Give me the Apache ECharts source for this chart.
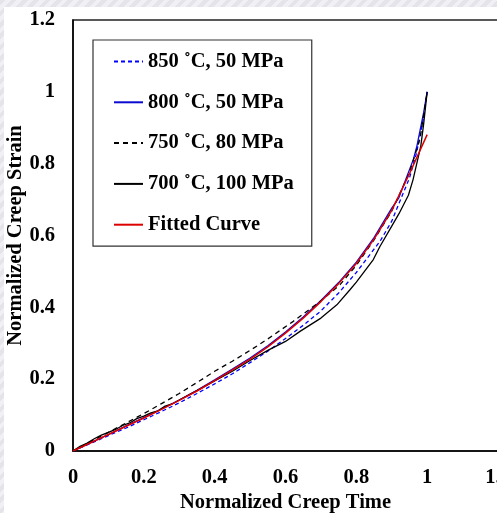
<!DOCTYPE html>
<html><head><meta charset="utf-8">
<script src="https://cdn.jsdelivr.net/npm/echarts@6/dist/echarts.min.js"></script>
<style>
html,body{margin:0;padding:0;width:497px;height:513px;overflow:hidden;
background:repeating-linear-gradient(135deg,#e4e4ea 0 4px,#f1f1f5 4px 8px);}
#c{position:absolute;left:4px;top:7px;width:493px;height:506px;background:#fff;}
</style></head>
<body><div id="c"></div>
<script>
const seriesNames = ['850 \u02DAC, 50 MPa','800 \u02DAC, 50 MPa','750 \u02DAC, 80 MPa','700 \u02DAC, 100 MPa','Fitted Curve'];
const xTickLabels = ['0','0.2','0.4','0.6','0.8','1','1.2'];
const yTickLabels = ['0','0.2','0.4','0.6','0.8','1','1.2'];

const time850 = [0,0.05,0.1,0.15,0.2,0.25,0.3,0.35,0.4,0.45,0.5,0.55,0.6,0.65,0.7,0.75,0.8,0.85,0.867,0.9,0.95,0.97,0.99,1.0];
const strain850 = [0,0.021,0.043,0.064,0.087,0.110,0.134,0.160,0.187,0.215,0.246,0.278,0.313,0.350,0.390,0.440,0.497,0.562,0.584,0.640,0.760,0.830,0.930,1.0];

const time800 = [0,0.05,0.1,0.15,0.2,0.25,0.3,0.35,0.4,0.45,0.5,0.55,0.6,0.65,0.7,0.75,0.8,0.85,0.9,0.92,0.961,0.971,0.99,1.0];
const strain800 = [0,0.023,0.046,0.070,0.093,0.117,0.142,0.169,0.198,0.228,0.259,0.293,0.331,0.373,0.419,0.469,0.526,0.594,0.676,0.705,0.812,0.849,0.942,1.0];

const time750 = [0,0.05,0.1,0.15,0.218,0.25,0.3,0.354,0.4,0.45,0.5,0.55,0.622,0.7,0.754,0.8,0.85,0.9,0.95,0.98,1.0];
const strain750 = [0,0.026,0.052,0.078,0.114,0.132,0.160,0.193,0.222,0.250,0.280,0.312,0.361,0.418,0.463,0.517,0.588,0.668,0.775,0.870,1.0];

const time700 = [0,0.02,0.04,0.06,0.08,0.10,0.12,0.14,0.16,0.18,0.20,0.22,0.24,0.26,0.28,0.30,0.35,0.40,0.45,0.50,0.55,0.60,0.641,0.70,0.745,0.782,0.80,0.848,0.867,0.90,0.92,0.947,0.96,0.982,0.99,1.0];
const strain700 = [0,0.013,0.022,0.034,0.044,0.052,0.060,0.071,0.078,0.090,0.097,0.106,0.112,0.125,0.131,0.142,0.168,0.195,0.222,0.252,0.280,0.305,0.333,0.370,0.407,0.449,0.470,0.533,0.570,0.626,0.660,0.712,0.755,0.849,0.910,1.0];

const timeFit = [0,0.05,0.1,0.15,0.2,0.25,0.3,0.35,0.4,0.45,0.5,0.55,0.6,0.65,0.7,0.75,0.8,0.85,0.9,0.95,1.0];
const strainFit = [0,0.023,0.046,0.069,0.092,0.116,0.141,0.167,0.196,0.226,0.256,0.290,0.328,0.370,0.416,0.466,0.522,0.590,0.670,0.772,0.881];

function pairs(xs, ys){ return xs.map((x,i)=>[x, ys[i]]); }

const font = '"Liberation Serif","Times New Roman",serif';
const chart = echarts.init(document.getElementById('c'), null, {renderer:'canvas'});
const mk = (name, xs, ys, color, type, width) => ({
  name, type:'line', data:pairs(xs,ys), symbol:'none', showSymbol:false, smooth:false,
  lineStyle:{color, width, type}, itemStyle:{color}, animation:false
});
chart.setOption({
  animation:false,
  grid:{left:69, top:13, width:425, height:431, containLabel:false, outerBoundsMode:'none',
    show:true, borderColor:'#222', borderWidth:1.5, backgroundColor:'transparent'},
  legend:{
    orient:'vertical', left:89, top:33, itemWidth:29, itemHeight:14, itemGap:19.8,
    padding:[11,18,11,20], borderColor:'#333', borderWidth:1.2, backgroundColor:'#fff',
    itemStyle:{opacity:0, borderWidth:0},
    textStyle:{fontFamily:font, fontWeight:'bold', fontSize:20.5, color:'#000'},
    data:seriesNames
  },
  xAxis:{type:'value', min:0, max:1.2, interval:0.2,
    name:'Normalized Creep Time', nameLocation:'middle', nameGap:41, nameMoveOverlap:false,
    nameTextStyle:{fontFamily:font, fontWeight:'bold', fontSize:20.5, color:'#000'},
    axisLine:{show:true, lineStyle:{color:'#000', width:1.5}},
    axisTick:{show:false}, splitLine:{show:false},
    axisLabel:{margin:16, fontFamily:font, fontWeight:'bold', fontSize:20.5, color:'#000',
      formatter:(v)=>xTickLabels[Math.round(v/0.2)]}
  },
  yAxis:{type:'value', min:0, max:1.2, interval:0.2,
    name:'Normalized Creep Strain', nameLocation:'middle', nameGap:47, nameRotate:90, nameMoveOverlap:false,
    nameTextStyle:{fontFamily:font, fontWeight:'bold', fontSize:20.5, color:'#000'},
    axisLine:{show:true, lineStyle:{color:'#000', width:1.5}},
    axisTick:{show:false}, splitLine:{show:false},
    axisLabel:{margin:18, fontFamily:font, fontWeight:'bold', fontSize:20.5, color:'#000',
      formatter:(v)=>yTickLabels[Math.round(v/0.2)]}
  },
  series:[
    mk(seriesNames[0], time850, strain850, '#0000ff', [4,3], 1.3),
    mk(seriesNames[1], time800, strain800, '#0a0ad0', 'solid', 1.3),
    mk(seriesNames[2], time750, strain750, '#000000', [5,4], 1.3),
    mk(seriesNames[3], time700, strain700, '#000000', 'solid', 1.3),
    mk(seriesNames[4], timeFit, strainFit, '#dd0000', 'solid', 1.5)
  ]
});
</script></body></html>
